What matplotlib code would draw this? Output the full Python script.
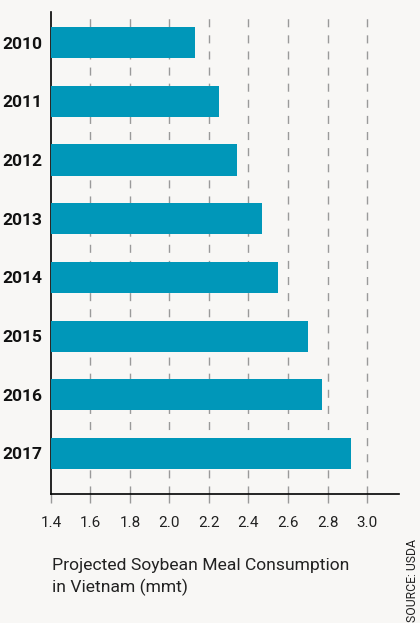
import matplotlib
matplotlib.use("Agg")
import matplotlib.pyplot as plt

years = ["2010", "2011", "2012", "2013", "2014", "2015", "2016", "2017"]
values = [2.13, 2.25, 2.34, 2.47, 2.55, 2.70, 2.77, 2.92]
xticks = [1.4, 1.6, 1.8, 2.0, 2.2, 2.4, 2.6, 2.8, 3.0]
xticklabels = ["1.4", "1.6", "1.8", "2.0", "2.2", "2.4", "2.6", "2.8", "3.0"]

plt.rcParams['lines.scale_dashes'] = False
bg = "#f8f7f5"
bar_color = "#0097b9"
narrow = ["Roboto", "DejaVu Sans"]

fig = plt.figure(figsize=(4.2, 6.23), dpi=100, facecolor=bg)
ax = fig.add_axes([0.1214, 0.2066, 0.95 - 0.1214, 0.9807 - 0.2066])
ax.set_facecolor(bg)

ypos = list(range(len(years)))
ax.barh(ypos, [v - 1.4 for v in values], left=1.4, height=0.53, color=bar_color, zorder=3)

ax.set_xlim(1.4, 3.162)
ax.set_ylim(7.695, -0.52)

for x in xticks[1:]:
    ax.axvline(x, color="#9a9a9a", lw=1.0, linestyle=(0, (5.8, 5.8)), zorder=1)

ax.set_xticks(xticks)
ax.set_xticklabels(xticklabels, fontsize=11, family=narrow, color="#222222")
ax.tick_params(axis="x", direction="out", length=6.5, width=1.0, color="#9a9a9a", pad=9)
ax.xaxis.get_major_ticks()[0].tick1line.set_color("black")

ax.set_yticks(ypos)
ax.set_yticklabels(years, fontsize=12.5, fontweight="bold", family=narrow, color="#111111")
ax.tick_params(axis="y", length=0, pad=6)

for s in ["top", "right"]:
    ax.spines[s].set_visible(False)
ax.spines["left"].set_color("black")
ax.spines["bottom"].set_color("black")
ax.spines["left"].set_linewidth(1.2)
ax.spines["bottom"].set_linewidth(1.2)

fig.text(52 / 420, 1 - 577 / 623, "Projected Soybean Meal Consumption\nin Vietnam (mmt)",
         fontsize=12.6, family=narrow, color="#222222", ha="left", va="center", linespacing=1.45)
fig.text(413 / 420, 1 - 580 / 623, "SOURCE: USDA", rotation=90, fontsize=8.8,
         family=narrow, color="#222222", ha="center", va="center")

fig.savefig("out.png", dpi=100, facecolor=bg)
